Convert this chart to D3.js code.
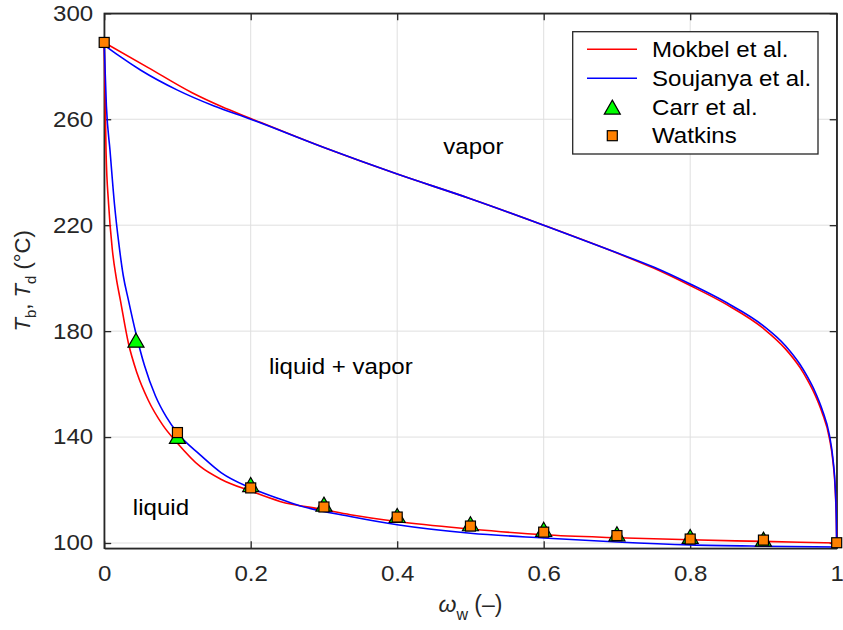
<!DOCTYPE html>
<html>
<head>
<meta charset="utf-8">
<script src="https://cdn.jsdelivr.net/npm/d3@7"></script>
<style>
  html, body { margin: 0; padding: 0; background: #fff; }
  svg { display: block; font-family: "Liberation Sans", Arial, sans-serif; }
</style>
</head>
<body>
<svg id="chart" width="843" height="630"></svg>
<script>
// Glycerol–water phase diagram: bubble (Tb) and dew (Td) temperatures vs water mass fraction

// Mokbel et al. — bubble curve
const mokbelBubbleW = [0, 0.0025, 0.006, 0.011, 0.0165, 0.022, 0.033, 0.045, 0.06, 0.08, 0.1, 0.131, 0.16, 0.2, 0.24, 0.3, 0.336, 0.4, 0.5, 0.6, 0.7, 0.8, 0.9, 1];
const mokbelBubbleT = [289, 248, 228, 211, 200, 191.8, 175.5, 164, 154, 144.5, 137.7, 128.9, 124, 119.6, 115.7, 112.6, 110.7, 108.1, 105.3, 103.1, 102.0, 101.2, 100.6, 100];
// Mokbel et al. — dew curve
const mokbelDewW = [0, 0.06, 0.12, 0.16, 0.2, 0.3, 0.4, 0.5, 0.6, 0.7, 0.75, 0.8, 0.85, 0.9, 0.93, 0.95, 0.96, 0.97, 0.98, 0.99, 0.995, 0.998, 0.9995, 1];
const mokbelDewT = [289, 279.5, 270, 264.8, 260.3, 249.3, 239.3, 230, 220, 209.5, 203.8, 197.2, 190, 181, 173.3, 166.2, 161.6, 156.2, 149.3, 139.6, 130.5, 120, 108, 100];

// Soujanya et al. — bubble curve
const soujanyaBubbleW = [0, 0.003, 0.008, 0.014, 0.02, 0.026, 0.033, 0.043, 0.055, 0.07, 0.085, 0.1, 0.131, 0.16, 0.2, 0.24, 0.268, 0.336, 0.4, 0.5, 0.6, 0.7, 0.8, 0.9, 1];
const soujanyaBubbleT = [288, 265, 248, 228, 213, 201, 191.8, 179.5, 167, 155.5, 147.5, 141.5, 133.3, 126.5, 120.8, 116.6, 114, 110, 106.9, 103.7, 101.9, 100.4, 99.3, 98.8, 98.5];
// Soujanya et al. — dew curve
const soujanyaDewW = [0, 0.02, 0.05, 0.1, 0.15, 0.2, 0.3, 0.4, 0.5, 0.6, 0.7, 0.75, 0.8, 0.85, 0.9, 0.93, 0.95, 0.96, 0.97, 0.98, 0.99, 0.995, 0.998, 0.9995, 1];
const soujanyaDewT = [288, 284, 278.5, 271, 265, 260, 249.3, 239.3, 230, 220, 209.6, 204.2, 197.8, 190.7, 182, 174.5, 167.4, 162.8, 157.4, 150.5, 140.8, 131.5, 121, 109, 98.5];

// Carr et al. — measurements
const carrW = [0.0434, 0.1, 0.2, 0.3, 0.4, 0.5, 0.6, 0.7, 0.8, 0.9];
const carrT = [176.5, 140.2, 122, 114.6, 110.3, 107.2, 105.1, 103.4, 102.4, 101.4];

// Watkins — measurements
const watkinsW = [0, 0.1, 0.2, 0.3, 0.4, 0.5, 0.6, 0.7, 0.8, 0.9, 1];
const watkinsT = [289, 141.7, 120.8, 113.6, 109.8, 106.4, 104.1, 102.8, 101.5, 101.1, 100.1];

// Axis ticks
const xTicks = [0, 0.2, 0.4, 0.6, 0.8, 1];
const xTickLabels = ["0", "0.2", "0.4", "0.6", "0.8", "1"];
const yTicks = [100, 140, 180, 220, 260, 300];
const yTickLabels = ["100", "140", "180", "220", "260", "300"];

// Legend entries and region labels
const legendNames = ["Mokbel et al.", "Soujanya et al.", "Carr et al.", "Watkins"];
const regionLabels = ["vapor", "liquid + vapor", "liquid"];

const RED = "#ff0000", BLUE = "#0000ff", GREEN = "#00ff00", ORANGE = "#ff8000";
const AXIS = "#262626", GRID = "#dfdfdf";
const FONT = 21.5, STRETCH = 1.12;   // wide sans text

const svg = d3.select("#chart");
const plotL = 104.2, plotR = 836.7, plotT = 13.3, plotB = 548.3;

const x = d3.scaleLinear().domain([0, 1]).range([plotL, plotR]);
const y = d3.scaleLinear().domain([98, 300]).range([plotB, plotT]);

// grid
const grid = svg.append("g");
grid.selectAll("line.gx").data(xTicks).join("line")
  .attr("x1", d => x(d)).attr("x2", d => x(d))
  .attr("y1", plotT).attr("y2", plotB)
  .attr("stroke", GRID).attr("stroke-width", 1);
grid.selectAll("line.gy").data(yTicks).join("line")
  .attr("x1", plotL).attr("x2", plotR)
  .attr("y1", d => y(d)).attr("y2", d => y(d))
  .attr("stroke", GRID).attr("stroke-width", 1);

// axes (ticks pointing inward, box on all sides)
const tickLen = 7;
const axB = svg.append("g").attr("transform", `translate(0,${plotB})`)
  .call(d3.axisBottom(x).tickValues(xTicks).tickFormat((d, i) => xTickLabels[i]).tickSizeInner(-tickLen).tickSizeOuter(0).tickPadding(17));
const axT = svg.append("g").attr("transform", `translate(0,${plotT})`)
  .call(d3.axisTop(x).tickValues(xTicks).tickFormat("").tickSizeInner(-tickLen).tickSizeOuter(0));
const axL = svg.append("g").attr("transform", `translate(${plotL},0)`)
  .call(d3.axisLeft(y).tickValues(yTicks).tickFormat((d, i) => yTickLabels[i]).tickSizeInner(-tickLen).tickSizeOuter(0).tickPadding(11));
const axR = svg.append("g").attr("transform", `translate(${plotR},0)`)
  .call(d3.axisRight(y).tickValues(yTicks).tickFormat("").tickSizeInner(-tickLen).tickSizeOuter(0));

[axB, axT, axL, axR].forEach(a => {
  a.select(".domain").attr("stroke", AXIS).attr("stroke-width", 1.3);
  a.selectAll(".tick line").attr("stroke", AXIS).attr("stroke-width", 1.3);
  a.selectAll(".tick text").attr("fill", AXIS).attr("font-size", FONT)
    .attr("font-family", "Liberation Sans, Arial, sans-serif")
    .attr("transform", `scale(${STRETCH},1)`);
});
axL.selectAll(".tick text").attr("x", -11 / STRETCH);

svg.append("rect").attr("x", plotL).attr("y", plotT).attr("width", plotR - plotL).attr("height", plotB - plotT)
  .attr("fill", "none").attr("stroke", AXIS).attr("stroke-width", 1.3);

// curves
svg.append("clipPath").attr("id", "plotclip").append("rect")
  .attr("x", plotL - 2).attr("y", plotT - 2).attr("width", plotR - plotL + 4).attr("height", plotB - plotT + 4);

const line = d3.line().x(d => x(d[0])).y(d => y(d[1])).curve(d3.curveMonotoneX);
const zip = (a, b) => a.map((v, i) => [v, b[i]]);

const curves = svg.append("g").attr("clip-path", "url(#plotclip)");
[
  [mokbelBubbleW, mokbelBubbleT, RED],
  [mokbelDewW, mokbelDewT, RED],
  [soujanyaBubbleW, soujanyaBubbleT, BLUE],
  [soujanyaDewW, soujanyaDewT, BLUE]
].forEach(([w, t, c]) => {
  curves.append("path").datum(zip(w, t))
    .attr("d", line).attr("fill", "none")
    .attr("stroke", c).attr("stroke-width", 1.6).attr("stroke-linejoin", "round");
});

// markers
const triPath = "M0,-7.2L8,6.8L-8,6.8Z";
const sqSize = 10;
svg.append("g").selectAll("path").data(zip(carrW, carrT)).join("path")
  .attr("d", triPath)
  .attr("transform", d => `translate(${x(d[0])},${y(d[1])})`)
  .attr("fill", GREEN).attr("stroke", "#000").attr("stroke-width", 1.2).attr("stroke-linejoin", "miter");
svg.append("g").selectAll("rect").data(zip(watkinsW, watkinsT)).join("rect")
  .attr("x", d => x(d[0]) - sqSize / 2).attr("y", d => y(d[1]) - sqSize / 2)
  .attr("width", sqSize).attr("height", sqSize)
  .attr("fill", ORANGE).attr("stroke", "#000").attr("stroke-width", 1.2);

// region labels
const regionPos = [[0.504, 154], [0.323, 374], [0.0775, 515]];
svg.append("g").selectAll("text").data(regionLabels).join("text")
  .attr("transform", (d, i) => `translate(${x(regionPos[i][0])},${regionPos[i][1]}) scale(${STRETCH},1)`)
  .attr("text-anchor", "middle")
  .attr("font-size", FONT).attr("fill", "#000")
  .text(d => d);

// legend
const lg = svg.append("g");
lg.append("rect").attr("x", 572.7).attr("y", 31.7).attr("width", 245.3).attr("height", 122.3)
  .attr("fill", "#fff").attr("stroke", AXIS).attr("stroke-width", 1.3);
const rowY = [49.3, 78.3, 107.3, 135.7];
legendNames.forEach((name, i) => {
  const cy = rowY[i];
  if (i < 2) {
    lg.append("line").attr("x1", 587).attr("x2", 637).attr("y1", cy).attr("y2", cy)
      .attr("stroke", i === 0 ? RED : BLUE).attr("stroke-width", 1.6);
  } else if (i === 2) {
    lg.append("path").attr("d", triPath).attr("transform", `translate(612.3,${cy})`)
      .attr("fill", GREEN).attr("stroke", "#000").attr("stroke-width", 1.2);
  } else {
    lg.append("rect").attr("x", 612.3 - sqSize / 2).attr("y", cy - sqSize / 2)
      .attr("width", sqSize).attr("height", sqSize)
      .attr("fill", ORANGE).attr("stroke", "#000").attr("stroke-width", 1.2);
  }
  lg.append("text").attr("transform", `translate(652,${cy}) scale(${STRETCH},1)`).attr("dy", "0.36em")
    .attr("font-size", FONT).attr("fill", "#000").text(name);
});

// axis titles
const xt = svg.append("text").attr("x", (plotL + plotR) / 2).attr("y", 612)
  .attr("text-anchor", "middle").attr("font-size", 23).attr("fill", AXIS);
xt.append("tspan").attr("font-style", "italic").text("ω");
xt.append("tspan").attr("font-size", 16).attr("dy", 8).text("w");
xt.append("tspan").attr("dy", -8).text(" (–)");

const yt = svg.append("text")
  .attr("transform", `translate(30,${(plotT + plotB) / 2}) rotate(-90)`)
  .attr("text-anchor", "middle").attr("font-size", 22).attr("fill", AXIS);
yt.append("tspan").attr("font-style", "italic").text("T");
yt.append("tspan").attr("font-size", 15).attr("dy", 6).text("b");
yt.append("tspan").attr("dy", -6).text(", ");
yt.append("tspan").attr("font-style", "italic").text("T");
yt.append("tspan").attr("font-size", 15).attr("dy", 6).text("d");
yt.append("tspan").attr("dy", -6).text(" (°C)");
</script>
</body>
</html>
